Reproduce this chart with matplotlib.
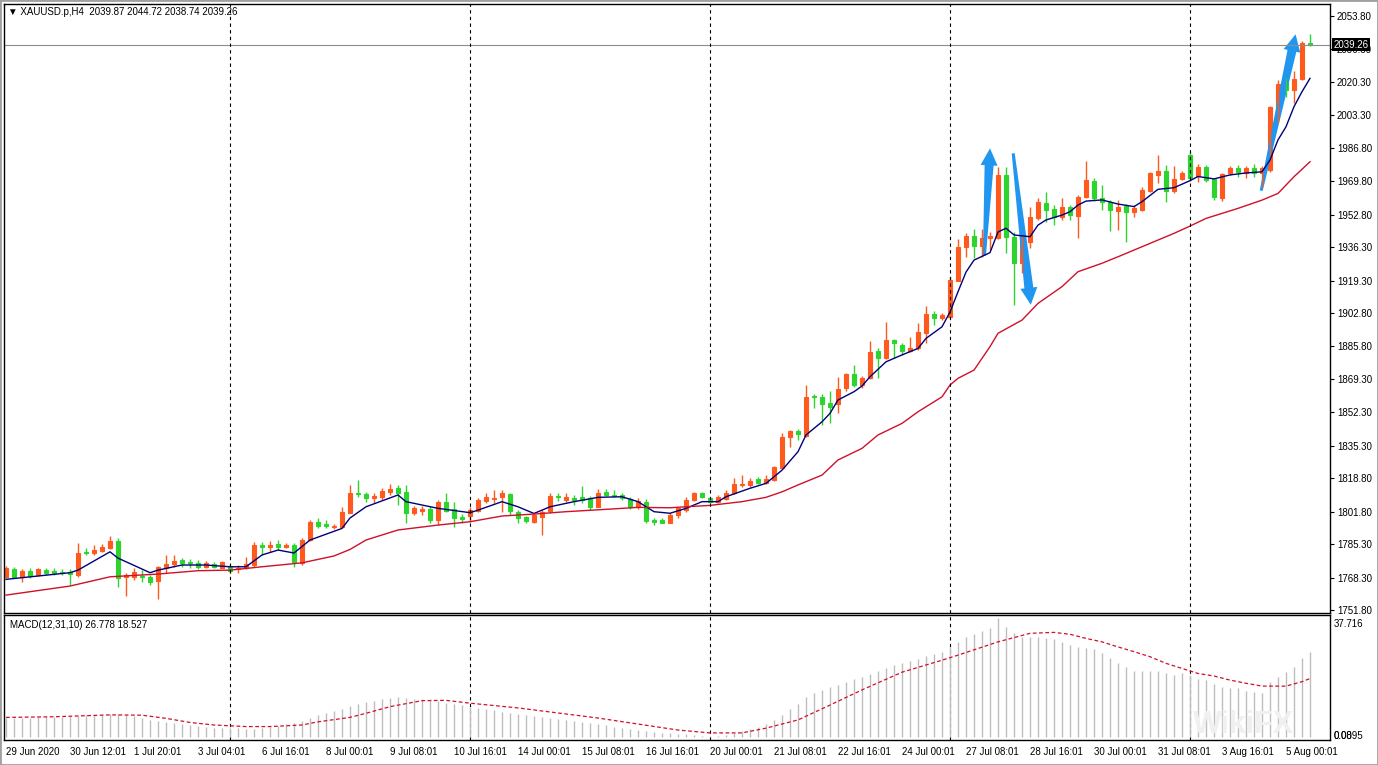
import numpy as np
import matplotlib
matplotlib.use('Agg')
import matplotlib.pyplot as plt
from matplotlib.patches import Polygon, Rectangle
from matplotlib.transforms import blended_transform_factory, IdentityTransform

plt.rcParams['font.family'] = ['Liberation Sans', 'DejaVu Sans']

# XAUUSD H4 candles, 29 Jun - 5 Aug 2020
opens = [1768.7, 1772.5, 1768.7, 1771.8, 1769.6, 1772.1, 1771.8, 1771.3, 1771.1, 1769.6,
         1781.4, 1780.6, 1781.9, 1783.2, 1787.0, 1768.4, 1768.4, 1769.1, 1768.7, 1766.5,
         1773.0, 1775.2, 1777.2, 1776.4, 1775.8, 1773.8, 1775.2, 1773.3, 1773.8, 1772.5,
         1773.0, 1774.7, 1784.9, 1784.0, 1785.2, 1784.0, 1784.9, 1775.5, 1787.4, 1796.7,
         1795.5, 1794.2, 1794.2, 1801.3, 1811.3, 1810.8, 1808.6, 1809.4, 1811.9, 1813.7,
         1811.9, 1801.0, 1802.3, 1803.0, 1797.6, 1806.9, 1803.0, 1799.2, 1799.6, 1802.3,
         1807.4, 1808.1, 1809.1, 1810.8, 1801.8, 1798.9, 1796.7, 1798.9, 1802.3, 1809.8,
         1807.7, 1808.6, 1809.1, 1808.6, 1804.3, 1811.6, 1810.3, 1810.3, 1808.1, 1804.3,
         1806.9, 1797.6, 1797.6, 1796.2, 1800.1, 1802.6, 1807.7, 1811.1, 1808.6, 1806.9,
         1808.1, 1811.1, 1815.3, 1815.3, 1818.3, 1816.2, 1817.9, 1823.8, 1839.6, 1843.0,
         1840.3, 1860.6, 1860.2, 1857.2, 1856.5, 1864.5, 1871.8, 1866.2, 1869.6, 1883.6,
         1879.8, 1889.1, 1886.5, 1883.6, 1884.8, 1892.8, 1902.3, 1900.1, 1900.6, 1919.2,
         1936.2, 1941.9, 1936.9, 1940.8, 1940.8, 1972.9, 1941.3, 1928.1, 1939.0, 1950.9,
         1958.9, 1955.5, 1951.8, 1956.5, 1952.1, 1961.6, 1970.1, 1961.1, 1959.4, 1954.8,
         1957.2, 1954.3, 1955.2, 1964.9, 1972.9, 1975.1, 1964.9, 1970.8, 1983.1, 1972.4,
         1977.2, 1970.8, 1961.1, 1973.8, 1976.4, 1974.1, 1976.4, 1974.0, 1975.5, 2007.0,
         2019.6, 2016.2, 2021.6, 2039.87]
highs = [1774.2, 1773.7, 1772.6, 1773.2, 1773.2, 1773.0, 1773.0, 1772.5, 1772.6, 1786.0,
         1783.2, 1784.9, 1785.4, 1789.4, 1788.3, 1770.5, 1773.0, 1772.1, 1769.6, 1774.2,
         1779.9, 1779.9, 1778.1, 1777.6, 1777.2, 1776.9, 1776.2, 1776.9, 1775.2, 1774.7,
         1778.9, 1786.5, 1786.5, 1787.0, 1787.4, 1785.7, 1785.9, 1788.4, 1797.6, 1798.6,
         1797.6, 1795.5, 1804.3, 1815.4, 1817.9, 1811.9, 1811.1, 1813.7, 1815.9, 1815.4,
         1815.4, 1804.7, 1804.7, 1804.7, 1807.7, 1811.1, 1806.9, 1800.6, 1804.3, 1808.7,
         1811.1, 1812.8, 1812.8, 1811.1, 1802.6, 1799.6, 1801.0, 1802.6, 1811.1, 1811.1,
         1811.1, 1810.3, 1814.8, 1809.8, 1813.2, 1813.2, 1812.8, 1811.4, 1809.1, 1808.6,
         1808.1, 1798.4, 1798.4, 1801.0, 1804.3, 1809.4, 1811.9, 1811.9, 1809.4, 1810.3,
         1812.8, 1818.8, 1820.4, 1818.8, 1819.3, 1820.4, 1825.0, 1841.9, 1843.3, 1843.7,
         1866.2, 1861.6, 1861.6, 1863.3, 1870.1, 1872.4, 1876.4, 1870.8, 1888.7, 1884.8,
         1898.4, 1889.4, 1887.4, 1890.4, 1897.6, 1906.4, 1904.0, 1902.6, 1921.1, 1940.3,
         1943.3, 1945.3, 1945.3, 1944.1, 1977.2, 1977.2, 1944.0, 1942.5, 1956.9, 1961.1,
         1964.5, 1957.7, 1961.1, 1957.7, 1962.8, 1980.2, 1971.3, 1967.9, 1960.3, 1960.3,
         1958.2, 1957.7, 1966.7, 1974.6, 1983.1, 1978.0, 1977.5, 1975.1, 1984.8, 1978.6,
         1978.0, 1971.3, 1974.1, 1977.5, 1978.0, 1977.5, 1978.6, 1977.5, 2008.0, 2021.3,
         2022.1, 2026.0, 2041.2, 2044.72]
lows = [1768.1, 1768.1, 1766.2, 1768.1, 1769.1, 1769.6, 1769.6, 1769.6, 1764.5, 1768.7,
        1779.8, 1779.8, 1781.4, 1782.8, 1763.6, 1758.9, 1767.1, 1766.0, 1764.5, 1757.5,
        1770.5, 1773.8, 1773.8, 1773.0, 1772.5, 1773.0, 1773.2, 1773.0, 1770.8, 1770.5,
        1772.5, 1773.8, 1779.8, 1781.4, 1782.3, 1783.2, 1773.8, 1774.7, 1786.9, 1793.5,
        1793.3, 1792.8, 1793.5, 1801.1, 1809.1, 1806.9, 1806.0, 1807.7, 1810.3, 1805.2,
        1795.9, 1800.1, 1800.1, 1795.9, 1795.0, 1801.8, 1794.2, 1795.9, 1796.7, 1801.6,
        1806.0, 1806.4, 1801.8, 1800.1, 1795.9, 1796.2, 1795.9, 1789.9, 1801.3, 1807.4,
        1806.9, 1805.2, 1806.4, 1802.6, 1804.0, 1809.8, 1809.1, 1807.7, 1803.0, 1803.0,
        1796.2, 1795.0, 1795.9, 1795.9, 1798.4, 1801.8, 1807.2, 1808.6, 1806.0, 1806.2,
        1807.7, 1810.8, 1814.5, 1814.5, 1815.9, 1815.9, 1817.4, 1823.3, 1834.8, 1838.2,
        1839.9, 1854.4, 1845.9, 1847.0, 1851.8, 1863.3, 1865.3, 1864.5, 1869.2, 1869.6,
        1879.4, 1879.8, 1881.5, 1883.1, 1884.0, 1887.4, 1896.7, 1899.2, 1900.1, 1919.1,
        1931.4, 1930.6, 1931.4, 1934.8, 1940.3, 1933.1, 1906.9, 1923.0, 1935.7, 1950.1,
        1949.2, 1947.5, 1950.1, 1950.1, 1940.8, 1961.1, 1959.9, 1955.2, 1944.6, 1945.0,
        1939.0, 1951.8, 1954.8, 1964.5, 1968.7, 1959.4, 1963.7, 1970.4, 1970.1, 1969.6,
        1969.6, 1960.3, 1959.9, 1972.9, 1972.1, 1971.3, 1972.1, 1967.0, 1974.6, 2000.0,
        2012.8, 2009.4, 2021.3, 2038.74]
closes = [1773.0, 1768.7, 1771.8, 1769.1, 1772.5, 1770.5, 1770.8, 1770.5, 1770.1, 1780.6,
          1780.6, 1782.3, 1784.0, 1786.9, 1767.9, 1769.6, 1770.9, 1768.6, 1766.2, 1773.5,
          1775.2, 1776.9, 1775.5, 1775.5, 1773.8, 1775.5, 1773.8, 1776.4, 1771.8, 1773.3,
          1775.2, 1784.9, 1783.7, 1784.7, 1784.0, 1784.9, 1776.4, 1787.4, 1796.7, 1794.5,
          1794.5, 1794.7, 1801.8, 1811.4, 1810.8, 1808.6, 1809.8, 1812.5, 1813.2, 1811.1,
          1801.0, 1803.5, 1803.0, 1797.6, 1806.9, 1802.3, 1798.4, 1797.9, 1802.6, 1807.7,
          1809.1, 1808.6, 1811.1, 1802.3, 1798.4, 1797.2, 1800.1, 1801.8, 1809.8, 1809.1,
          1809.4, 1807.7, 1807.7, 1804.3, 1811.1, 1810.3, 1809.8, 1808.6, 1804.3, 1807.4,
          1797.2, 1796.7, 1796.2, 1800.1, 1803.5, 1807.7, 1811.1, 1809.4, 1806.9, 1809.1,
          1811.4, 1815.9, 1815.9, 1817.5, 1816.5, 1818.4, 1824.4, 1839.6, 1843.0, 1841.3,
          1860.2, 1859.9, 1856.5, 1855.2, 1864.0, 1871.8, 1866.2, 1869.9, 1883.1, 1879.8,
          1889.1, 1887.4, 1883.6, 1884.8, 1893.3, 1902.3, 1900.1, 1901.8, 1919.6, 1936.2,
          1941.9, 1936.9, 1940.8, 1941.9, 1972.9, 1941.3, 1928.4, 1939.0, 1951.5, 1959.4,
          1955.2, 1951.8, 1956.5, 1952.6, 1961.9, 1970.4, 1961.1, 1959.4, 1955.2, 1956.9,
          1954.3, 1956.0, 1965.3, 1973.8, 1975.1, 1964.9, 1970.8, 1974.1, 1971.4, 1977.2,
          1970.4, 1961.6, 1973.5, 1976.4, 1974.6, 1976.4, 1974.1, 1976.5, 2007.4, 2019.2,
          2016.2, 2021.6, 2040.2, 2039.26]

# moving averages at selected bars
fast_ma_bar = [0, 8, 9, 13, 14, 18, 19, 22, 25, 28, 30, 32, 34, 36, 38, 42, 43, 45, 49, 50,
               54, 58, 59, 62, 64, 66, 68, 71, 74, 77, 79, 81, 83, 85, 87, 89, 90, 93, 95, 97,
               99, 100, 102, 103, 104, 106, 107, 108, 110, 112, 114, 115, 117, 118, 119, 120,
               121, 123, 124, 125, 126, 128, 129, 130, 132, 133, 134, 135, 137, 139, 141, 142,
               144, 146, 148, 149, 151, 153, 155, 157, 158, 159, 160, 161, 162, 163]
fast_ma = [1767.4, 1770.8, 1772.1, 1781.4, 1778.2, 1770.8, 1772.1, 1774.7, 1774.7, 1773.8,
           1773.8, 1779.8, 1782.3, 1780.8, 1787.4, 1793.3, 1798.6, 1804.3, 1810.3, 1806.9,
           1803.5, 1801.3, 1802.6, 1806.9, 1804.3, 1800.9, 1804.3, 1806.9, 1809.1, 1809.4,
           1806.9, 1801.8, 1801.0, 1803.5, 1806.9, 1806.9, 1809.4, 1813.7, 1816.2, 1822.9,
           1832.3, 1840.8, 1847.5, 1851.8, 1858.6, 1862.8, 1865.7, 1870.4, 1878.0, 1881.5,
           1884.8, 1889.9, 1895.8, 1903.3, 1913.6, 1923.6, 1929.7, 1933.5, 1944.0, 1945.9,
           1942.5, 1941.6, 1947.5, 1950.1, 1952.6, 1954.3, 1957.7, 1959.7, 1960.3, 1958.2,
           1956.9, 1959.4, 1965.7, 1966.5, 1970.1, 1972.2, 1971.0, 1973.0, 1974.0, 1974.6,
           1980.6, 1990.8, 1997.5, 2007.7, 2015.3, 2022.1]
slow_ma_bar = [0, 8, 13, 19, 24, 28, 32, 37, 41, 43, 45, 49, 54, 58, 62, 66, 70, 75, 79, 83,
               85, 88, 92, 95, 97, 99, 102, 104, 107, 109, 112, 114, 117, 118, 119, 121, 123,
               124, 127, 129, 132, 134, 137, 139, 142, 146, 148, 150, 154, 157, 159, 161, 163]
slow_ma = [1759.4, 1764.0, 1768.7, 1770.1, 1771.8, 1772.1, 1773.8, 1775.8, 1779.3, 1782.6,
           1787.4, 1792.5, 1795.0, 1796.7, 1799.6, 1800.6, 1801.8, 1803.0, 1804.0, 1803.8,
           1804.3, 1805.0, 1806.9, 1809.1, 1811.9, 1815.4, 1820.4, 1828.1, 1834.0, 1840.8,
           1846.7, 1852.6, 1860.2, 1866.2, 1869.6, 1873.8, 1885.7, 1892.5, 1899.2, 1907.7,
           1916.2, 1923.8, 1928.1, 1931.4, 1936.5, 1943.3, 1947.0, 1950.9, 1956.0, 1960.2,
           1963.6, 1972.1, 1979.7]

# MACD(12,31,10): main histogram per bar, signal line at selected bars
macd = [6.0, 6.0, 6.1, 6.1, 6.2, 6.2, 6.3, 6.4, 6.5, 6.7,
        6.9, 7.0, 7.1, 7.3, 7.2, 6.9, 6.5, 6.0, 5.4, 5.0,
        4.6, 4.3, 4.0, 3.7, 3.4, 3.2, 3.0, 2.9, 2.8, 2.7,
        2.6, 2.5, 2.8, 3.2, 3.6, 4.0, 4.5, 5.1, 6.0, 6.9,
        7.7, 8.3, 8.9, 9.7, 10.4, 11.0, 11.5, 12.0, 12.4, 12.6,
        12.4, 12.1, 11.9, 11.6, 11.3, 10.9, 10.5, 10.0, 9.6, 9.2,
        8.8, 8.4, 8.0, 7.7, 7.3, 7.0, 6.6, 6.3, 6.0, 5.7,
        5.4, 5.1, 4.8, 4.5, 4.1, 3.7, 3.3, 3.0, 2.6, 2.3,
        2.0, 1.7, 1.4, 1.2, 1.0, 0.8, 0.6, 0.4, 0.2, 0.3,
        0.7, 1.2, 1.8, 2.5, 3.2, 4.1, 5.4, 7.0, 8.8, 10.5,
        12.5, 13.8, 14.8, 15.7, 16.6, 17.5, 18.2, 19.0, 20.0, 20.9,
        21.9, 22.7, 23.4, 24.0, 24.8, 25.6, 26.2, 26.8, 28.5, 30.0,
        31.5, 32.5, 33.5, 34.4, 37.7, 34.9, 32.8, 31.7, 31.7, 31.7,
        31.2, 30.9, 30.1, 29.1, 28.5, 28.3, 27.7, 26.6, 24.9, 23.5,
        22.0, 20.9, 20.9, 21.0, 20.9, 20.1, 19.6, 20.1, 19.6, 18.5,
        18.0, 16.7, 15.7, 15.4, 15.4, 14.6, 14.3, 14.0, 17.5, 19.1,
        20.6, 22.2, 24.9, 26.8]
signal_bar = [0, 6, 13, 17, 20, 23, 26, 30, 33, 37, 39, 43, 45, 48, 52, 55, 58, 64, 69, 74,
              79, 84, 88, 92, 95, 99, 103, 107, 112, 117, 119, 124, 128, 131, 133, 135, 137,
              139, 141, 143, 145, 147, 149, 151, 153, 155, 157, 160, 162, 163]
signal = [6.2, 6.4, 7.0, 6.9, 5.9, 4.6, 3.8, 3.3, 3.3, 3.8, 4.8, 6.2, 7.5, 9.6, 11.5, 11.6,
          10.7, 9.2, 7.6, 6.0, 4.1, 2.2, 1.3, 1.3, 2.8, 5.4, 10.1, 14.9, 20.5, 24.3, 25.9,
          30.1, 32.8, 33.1, 32.5, 31.2, 30.1, 28.5, 27.0, 25.4, 23.3, 21.7, 20.1, 19.3, 18.0,
          17.0, 16.1, 16.1, 17.5, 18.5]

price_ticks = [2053.80, 2036.80, 2020.30, 2003.30, 1986.80, 1969.80, 1952.80, 1936.30, 1919.30,
               1902.80, 1885.80, 1869.30, 1852.30, 1835.30, 1818.80, 1801.80, 1785.30, 1768.30,
               1751.80]
date_bar = list(range(0, 161, 8))
date_labels = ['29 Jun 2020', '30 Jun 12:01', '1 Jul 20:01', '3 Jul 04:01', '6 Jul 16:01',
               '8 Jul 00:01', '9 Jul 08:01', '10 Jul 16:01', '14 Jul 00:01', '15 Jul 08:01',
               '16 Jul 16:01', '20 Jul 00:01', '21 Jul 08:01', '22 Jul 16:01', '24 Jul 00:01',
               '27 Jul 08:01', '28 Jul 16:01', '30 Jul 00:01', '31 Jul 08:01', '3 Aug 16:01',
               '5 Aug 00:01']
week_bar = [28, 58, 88, 118, 148]
last_price = 2039.26

# hand-drawn arrows (bar, price) -> (bar, price)
arrows = [((122.3, 1932.0), (123.0, 1986.5)),
          ((125.9, 1984.0), (128.1, 1907.0)),
          ((156.9, 1965.0), (161.2, 2044.5))]

UP = '#ff5a1e'
DOWN = '#2ed42e'
FS = 7

W, H = 1378, 765
fig = plt.figure(figsize=(W / 100, H / 100), dpi=100)
ax = fig.add_axes([4 / W, 1 - 613 / H, 1326 / W, 609 / H])
axm = fig.add_axes([4 / W, 1 - 740 / H, 1326 / W, 125 / H])

x = np.arange(len(opens))
o = np.array(opens); c = np.array(closes)
hi = np.array(highs); lo = np.array(lows)
col = np.where(c >= o, UP, DOWN)

for a in (ax, axm):
    a.set_xlim(-0.25, 165.5)
ax.set_ylim(1750.3, 2059.9)

ax.vlines(x, lo, hi, colors=col, lw=1)
ax.bar(x, np.abs(c - o), bottom=np.minimum(o, c), width=0.5, color=col,
       edgecolor=col, linewidth=0.8)
ax.plot(fast_ma_bar, fast_ma, color='#00007a', lw=1)
ax.plot(slow_ma_bar, slow_ma, color='#d0102a', lw=1)
ax.axhline(last_price, color='#8c8c8c', lw=0.8)

# tapered arrows, shaped in pixels
for p0, p1 in arrows:
    a0 = ax.transData.transform(p0)
    a1 = ax.transData.transform(p1)
    d = (a1 - a0) / np.hypot(*(a1 - a0))
    n = np.array([-d[1], d[0]])
    base = a1 - d * 17
    verts = [a0 + n * 1.5, base + n * 4.5, base + n * 8.5, a1,
             base - n * 8.5, base - n * 4.5, a0 - n * 1.5]
    ax.add_patch(Polygon(verts, closed=True, transform=IdentityTransform(),
                         facecolor='#2196f0', edgecolor='none'))

for a in (ax, axm):
    for b in week_bar:
        a.axvline(b, color='black', lw=0.8, linestyle=(0, (3, 3)))
    for s in a.spines.values():
        s.set_linewidth(1)
        s.set_color('black')

ax.yaxis.tick_right()
ax.set_yticks(price_ticks)
ax.set_yticklabels(['%.2f' % v for v in price_ticks])
ax.tick_params(axis='y', length=3, width=0.8, pad=2, labelsize=FS)
ax.set_xticks([])
ax.text(0.003, 0.987, '\u25bc XAUUSD.p,H4  2039.87 2044.72 2038.74 2039.26', transform=ax.transAxes,
        fontsize=FS, va='center', ha='left')
tr = blended_transform_factory(ax.transAxes, ax.transData)
ax.text(1.0025, last_price, '%.2f' % last_price, transform=tr, color='white', fontsize=FS,
        va='center', ha='left', bbox=dict(facecolor='black', edgecolor='none', pad=1.2))

axm.vlines(x, 0, macd, colors='#bdbdbd', lw=1)
axm.plot(signal_bar, signal, color='#d0102a', lw=0.9, linestyle=(0, (3, 2)))
axm.set_ylim(-0.95, 38.6)
axm.set_yticks([])
axm.set_xticks(date_bar)
axm.set_xticklabels(date_labels, ha='left')
axm.tick_params(axis='x', length=0, pad=5, labelsize=FS)
axm.text(0.0045, 0.92, 'MACD(12,31,10) 26.778 18.527', transform=axm.transAxes, fontsize=FS,
         va='center', ha='left')
axm.text(1.003, 0.97, '37.716', transform=axm.transAxes, fontsize=FS, va='top', ha='left')
axm.text(1.003, 0.03, '0.00', transform=axm.transAxes, fontsize=FS, va='center', ha='left')
axm.text(1.003, 0.03, '0.0895', transform=axm.transAxes, fontsize=FS, va='center', ha='left')
axm.text(0.935, 0.12, 'WikiFX', transform=axm.transAxes, fontsize=22, color='#f0f0f0',
         va='center', ha='center', fontweight='bold')

fig.patches.append(Rectangle((0, 0), 1, 1, transform=fig.transFigure, fill=False,
                             edgecolor='#a0a0a0', lw=2))

fig.savefig('out.png', dpi=100, facecolor='white')
